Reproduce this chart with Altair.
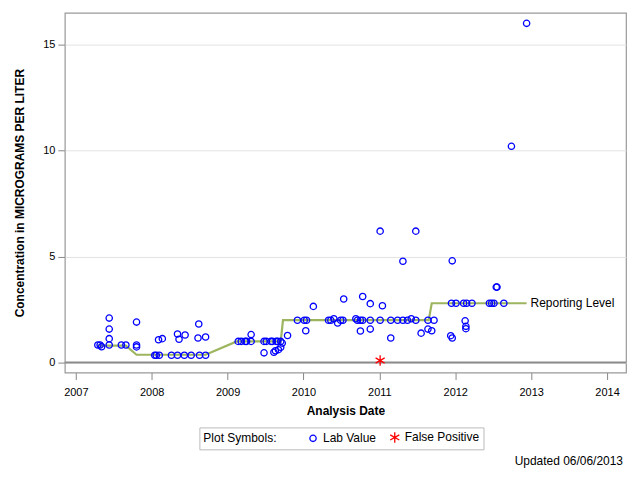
import altair as alt
import pandas as pd

# Lab values (decimal year, concentration)
lab_years = [2007.29, 2007.32, 2007.34, 2007.44, 2007.44, 2007.44, 2007.44, 2007.60, 2007.66,
             2007.80, 2007.80, 2007.80, 2008.04, 2008.06, 2008.10, 2008.09, 2008.14, 2008.26,
             2008.34, 2008.34, 2008.36, 2008.43, 2008.44, 2008.52, 2008.62, 2008.61, 2008.63,
             2008.71, 2008.71, 2009.14, 2009.18, 2009.23, 2009.25, 2009.31, 2009.31, 2009.48,
             2009.51, 2009.48, 2009.57, 2009.59, 2009.64, 2009.66, 2009.70, 2009.61, 2009.63,
             2009.67, 2009.70, 2009.72, 2009.79, 2009.92, 2010.01, 2010.04, 2010.03, 2010.13,
             2010.33, 2010.36, 2010.40, 2010.45, 2010.49, 2010.52, 2010.53, 2010.69, 2010.71,
             2010.75, 2010.78, 2010.78, 2010.75, 2010.88, 2010.88, 2010.88, 2011.01, 2011.01,
             2011.04, 2011.15, 2011.15, 2011.24, 2011.31, 2011.31, 2011.37, 2011.42, 2011.48,
             2011.48, 2011.55, 2011.64, 2011.64, 2011.72, 2011.69, 2011.94, 2011.96, 2011.96,
             2011.95, 2012.01, 2012.11, 2012.15, 2012.22, 2012.13, 2012.14, 2012.14, 2012.45,
             2012.48, 2012.51, 2012.54, 2012.55, 2012.64, 2012.74, 2012.94]
lab_values = [0.83, 0.83, 0.75, 0.83, 1.13, 1.58, 2.1, 0.83, 0.83,
              1.91, 0.83, 0.74, 0.35, 0.35, 0.35, 1.08, 1.13, 0.35,
              0.35, 1.35, 1.1, 0.35, 1.3, 0.35, 1.82, 1.16, 0.35,
              1.21, 0.35, 1.0, 1.0, 1.0, 1.0, 1.0, 1.32, 1.0,
              1.0, 0.46, 1.0, 1.0, 1.0, 1.0, 1.0, 0.49, 0.56,
              0.61, 0.72, 0.92, 1.28, 2.0, 2.0, 2.0, 1.5, 2.65,
              2.0, 2.0, 2.07, 1.87, 2.0, 2.0, 3.0, 2.07, 2.0,
              2.0, 2.0, 3.12, 1.49, 2.78, 2.0, 1.58, 2.0, 6.2,
              2.68, 2.0, 1.16, 2.0, 2.0, 4.78, 2.0, 2.07, 2.0,
              6.2, 1.39, 2.0, 1.58, 2.0, 1.5, 1.27, 1.16, 4.8,
              2.8, 2.8, 2.8, 2.8, 2.8, 1.97, 1.71, 1.6, 2.8,
              2.8, 2.8, 3.56, 3.56, 2.8, 10.2, 16.0]

fp_years = [2011.01]
fp_values = [0.1]

# Reporting level path
rl_years = [2007.28, 2007.66, 2007.80, 2008.71, 2009.12, 2009.70, 2009.73, 2011.65, 2011.69, 2012.94]
rl_values = [0.8, 0.8, 0.37, 0.37, 1.0, 1.0, 2.0, 2.0, 2.8, 2.8]

x_ticks = [2007, 2008, 2009, 2010, 2011, 2012, 2013, 2014]
y_ticks = [0, 5, 10, 15]

FONT = "Liberation Sans"
STAR = "M0,-1L0,1M-0.87,-0.5L0.87,0.5M-0.87,0.5L0.87,-0.5"
KINDS = ["Lab Value", "False Positive"]

pts = pd.DataFrame({
    "year": lab_years + fp_years,
    "value": lab_values + fp_values,
    "kind": ["Lab Value"] * len(lab_years) + ["False Positive"] * len(fp_years),
})
rl = pd.DataFrame({"year": rl_years, "value": rl_values, "order": list(range(len(rl_years)))})
rl_end = rl.tail(1).assign(label="Reporting Level")

xscale = alt.Scale(domain=[2006.855, 2014.25], nice=False, zero=False)
yscale = alt.Scale(domain=[-0.47, 16.5], nice=False, zero=False)

x_enc = alt.X("year:Q", scale=xscale, title="Analysis Date",
              axis=alt.Axis(values=x_ticks, format="d", grid=False, labelFontSize=11,
                            titleFontSize=12, titleFontWeight="bold", tickColor="#888",
                            domain=False, labelPadding=7, titlePadding=8, labelColor="#000",
                            titleColor="#000", labelFont=FONT, titleFont=FONT))
y_enc = alt.Y("value:Q", scale=yscale, title="Concentration in MICROGRAMS PER LITER",
              axis=alt.Axis(values=y_ticks, grid=True, gridColor="#e3e3e3", labelFontSize=11,
                            titleFontSize=12, titleFontWeight="bold", tickColor="#888",
                            domain=False, labelPadding=3, titlePadding=16, labelColor="#000",
                            titleColor="#000", labelFont=FONT, titleFont=FONT))

zero = alt.Chart(pd.DataFrame({"value": [0]})).mark_rule(color="#8c8c8c", strokeWidth=2).encode(
    y=alt.Y("value:Q", scale=yscale))

line = alt.Chart(rl).mark_line(color="#9cb55e", strokeWidth=2.2).encode(
    x=x_enc, y=y_enc, order="order:Q")

label = alt.Chart(rl_end).mark_text(align="left", baseline="middle", dx=4, fontSize=12,
                                    font=FONT, color="#000").encode(
    x=alt.X("year:Q", scale=xscale), y=alt.Y("value:Q", scale=yscale), text="label:N")

points = alt.Chart(pts).mark_point(filled=False, strokeWidth=1.3, opacity=1).encode(
    x=alt.X("year:Q", scale=xscale),
    y=alt.Y("value:Q", scale=yscale),
    color=alt.Color("kind:N",
                    scale=alt.Scale(domain=KINDS, range=["#0000ff", "#ff0000"]),
                    legend=alt.Legend(title="Plot Symbols:", orient="none", legendX=135, legendY=416,
                                      direction="horizontal", titleOrient="left", titleFontWeight="normal",
                                      titleFontSize=12, labelFontSize=12, titleFont=FONT, labelFont=FONT,
                                      strokeColor="#bbbbbb", padding=4, symbolSize=45,
                                      titlePadding=30, columnPadding=10, labelColor="#000",
                                      titleColor="#000", symbolStrokeWidth=1.3)),
    shape=alt.Shape("kind:N", scale=alt.Scale(domain=KINDS, range=["circle", STAR]), legend=None),
    size=alt.Size("kind:N", scale=alt.Scale(domain=KINDS, range=[40, 110]), legend=None),
)

footer = alt.Chart(pd.DataFrame({"t": ["Updated 06/06/2013"]})).mark_text(
    align="right", baseline="middle", fontSize=12, font=FONT, color="#000").encode(
    x=alt.value(560), y=alt.value(450), text="t:N")

chart = alt.layer(zero, line, points, label, footer).properties(
    width=563, height=361,
    padding={"left": 5, "top": 4, "right": 5, "bottom": 5},
).configure_view(stroke="#999999", strokeWidth=1.2).configure_axis(tickSize=7)

chart.save("out.html", embed_options={"renderer": "svg", "actions": False})
